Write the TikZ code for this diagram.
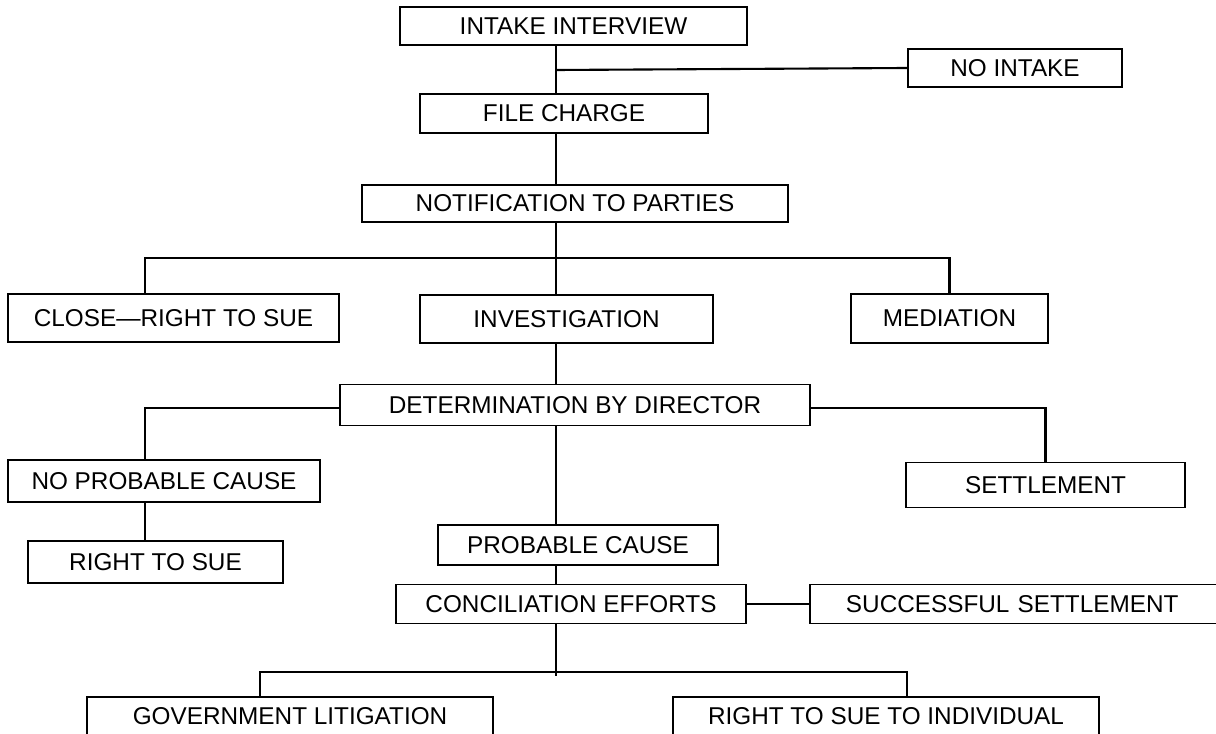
\documentclass[tikz,border=0pt]{standalone}
\usepackage{fontspec}
\setmainfont{Liberation Sans}

\begin{document}
\begin{tikzpicture}[x=0.025cm, y=-0.025cm,
    box/.style={draw, rectangle, line width=1.4pt, inner sep=0pt,
                font=\fontsize{17.3}{20}\selectfont},
    link/.style={line width=1.5pt}]
    \useasboundingbox (0,0) rectangle (1216,734);
    \coordinate (spine) at (556,0);

    % boxes, placed at their centres
    \node[box, minimum width=8.675cm, minimum height=0.95cm] (INT) at (573.5,26) {INTAKE INTERVIEW};
    \node[box, minimum width=5.35cm, minimum height=0.95cm] (NOI) at (1015,68) {NO INTAKE};
    \node[box, minimum width=7.2cm, minimum height=0.975cm] (FC) at (564,113.5) {FILE CHARGE};
    \node[box, minimum width=10.65cm, minimum height=0.925cm] (NOT) at (575,203.5) {NOTIFICATION TO PARTIES};
    \node[box, minimum width=8.275cm, minimum height=1.2cm] (CRS) at (173.5,318) {CLOSE---RIGHT TO SUE};
    \node[box, minimum width=7.325cm, minimum height=1.2cm] (INV) at (566.5,319) {INVESTIGATION};
    \node[box, minimum width=4.925cm, minimum height=1.225cm] (MED) at (949.5,318.5) {MEDIATION};
    \node[box, minimum width=11.75cm, minimum height=1.025cm] (DET) at (575,405) {DETERMINATION BY DIRECTOR};
    \node[box, minimum width=7.8cm, minimum height=1.05cm] (NPC) at (164,481) {NO PROBABLE CAUSE};
    \node[box, minimum width=6.975cm, minimum height=1.125cm] (SET) at (1045.5,485) {SETTLEMENT};
    \node[box, minimum width=6.375cm, minimum height=1.05cm] (RTS) at (155.5,562) {RIGHT TO SUE};
    \node[box, minimum width=7cm, minimum height=1cm] (PC) at (578,545) {PROBABLE CAUSE};
    \node[box, minimum width=8.75cm, minimum height=0.975cm] (CON) at (571,604) {CONCILIATION EFFORTS};
    \node[box, minimum width=10.5cm, minimum height=0.975cm, text width=10.15cm, align=left] (SS) at (1020,604) {\hspace*{0.725cm}SUCCESSFUL SETTLEMENT};
    \node[box, minimum width=10.15cm, minimum height=0.95cm] (GL) at (290,716) {GOVERNMENT LITIGATION};
    \node[box, minimum width=10.65cm, minimum height=0.95cm] (RTI) at (886,716) {RIGHT TO SUE TO INDIVIDUAL};

    % branch points
    \coordinate (b1) at (556,70);
    \coordinate (b2) at (556,258);
    \coordinate (b3) at (556,672);

    % main spine
    \draw[link] (INT.south -| spine) -- (FC.north -| spine);
    \draw[link] (b1) -- (NOI.west);
    \draw[link] (FC.south -| spine) -- (NOT.north -| spine);
    \draw[link] (NOT.south -| spine) -- (INV.north -| spine);
    \draw[link] ([xshift=-0.7125cm]CRS.north) |- (b2) -| (MED.north);
    \draw[link] (INV.south -| spine) -- (DET.north -| spine);
    \draw[link] ([xshift=-0.475cm]NPC.north) |- ([yshift=-0.075cm]DET.west);
    \draw[link] ([yshift=-0.075cm]DET.east) -| (SET.north);
    \draw[link] ([xshift=-0.475cm]NPC.south) -- ([xshift=-0.475cm]NPC.south |- RTS.north);
    \draw[link] (DET.south -| spine) -- (PC.north -| spine);
    \draw[link] (PC.south -| spine) -- (CON.north -| spine);
    \draw[link] (CON.east) -- (SS.west);
    \draw[link] (CON.south -| spine) -- ([yshift=-0.1cm]b3);
    \draw[link] ([xshift=-0.75cm]GL.north) |- (b3) -| ([xshift=0.525cm]RTI.north);
\end{tikzpicture}
\end{document}
